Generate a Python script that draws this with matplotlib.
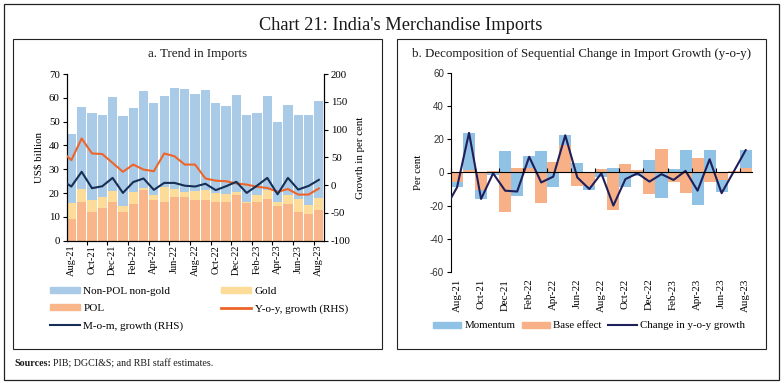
import matplotlib
matplotlib.use("Agg")
import matplotlib.pyplot as plt
import numpy as np
from matplotlib.patches import Rectangle, Patch
from matplotlib.lines import Line2D

plt.rcParams["axes.unicode_minus"] = False
SERIF = "Liberation Serif"
SANS = "Liberation Sans"

# ---------------- data ----------------
months = ["Aug-21", "Sep-21", "Oct-21", "Nov-21", "Dec-21", "Jan-22", "Feb-22", "Mar-22",
          "Apr-22", "May-22", "Jun-22", "Jul-22", "Aug-22", "Sep-22", "Oct-22", "Nov-22",
          "Dec-22", "Jan-23", "Feb-23", "Mar-23", "Apr-23", "May-23", "Jun-23", "Jul-23", "Aug-23"]
line_months = ["Jul-21"] + months  # line series carry one earlier month

# Panel a (US$ billion)
pol = [9.2, 16.4, 12.2, 13.9, 16.4, 12.2, 15.5, 21.1, 17.2, 16.4, 18.5, 18.2, 17.1, 17.2,
       16.1, 16.1, 19.2, 15.7, 16.2, 17.6, 14.7, 15.3, 12.2, 11.3, 13.0]
gold = [6.6, 5.3, 4.9, 4.6, 4.6, 2.5, 4.9, 1.0, 2.1, 6.1, 3.1, 2.4, 3.6, 4.1, 3.8, 3.5,
        1.2, 0.7, 3.1, 3.7, 1.4, 3.9, 5.2, 3.8, 4.9]
non_pol_non_gold = [29.2, 34.5, 36.5, 34.4, 39.2, 37.7, 35.3, 40.9, 38.7, 38.4, 42.5, 43.1,
                    41.1, 42.0, 37.9, 37.1, 40.6, 36.3, 34.2, 39.5, 33.9, 37.7, 35.5, 37.6, 40.8]
# Panel a (per cent, RHS)
yoy_growth = [62, 45, 84, 57, 56, 40, 24, 37, 28, 25, 57, 52, 37, 37, 12, 8, 7, 3, 1,
              -3, -5, -12, -7, -17, -17, -6]
mom_growth = [10, -2.5, 24, -5.5, -2, 13, -14, 5.5, 12, -8.5, 4, 4, -1, -2.5, 2.5, -9, -2,
              6, -14, -1, 13, -16.5, 13, -8, -1.5, 9.5]

# Panel b (per cent)
base_effect = [-5.5, 1.5, -10.5, 1, -24, 2.5, 3, -18.5, 6.5, 16.8, -8, -8, 2, -22.5, 5, 1.5,
               -13, 14, -6, -12.5, 8.5, -5.5, -4.5, 1, 3]
momentum = [-3, 22.5, -5.5, -1.5, 13, -14, 7, 13, -9, 6, 5.5, -2.5, -3, 2.5, -9, -2, 7.5,
            -15.5, 2, 13.5, -19.5, 13.5, -7.5, -0.5, 10.5]
change_yoy = [-22, -9, 24, -16, -0.5, -11, -11.5, 9.5, -6, -2.5, 22.5, -3, -10, -0.5, -20,
              -4, -0.5, -5.5, -1, -4.5, 1, -11, 8, -12.5, 0.5, 13.5]

# ---------------- styles ----------------
C_NONPOL = "#aacbe8"
C_GOLD = "#fcdc98"
C_POL = "#f8b68a"
C_YOY = "#ee6529"
C_MOM = "#172f55"
C_MOMENTUM = "#8fc2e5"
C_BASE = "#f8b187"
C_CHANGE = "#1f1f5c"

W, H = 783, 384
fig = plt.figure(figsize=(W / 100, H / 100), dpi=100)


def fx(px):
    return px / W


def fy(py):
    return 1 - py / H


# frames
fig.add_artist(Rectangle((fx(4), fy(380)), fx(775), 376 / H, transform=fig.transFigure,
                         fill=False, edgecolor="#222222", lw=0.9))
for x0 in (13, 397):
    fig.add_artist(Rectangle((fx(x0), fy(349)), fx(369), 310 / H, transform=fig.transFigure,
                             fill=False, edgecolor="#222222", lw=0.8))

fig.text(fx(401), fy(30.5), "Chart 21: India's Merchandise Imports", ha="center",
         va="baseline", fontsize=13.2, family=SERIF, color="#1a1a1a")
fig.text(fx(197.5), fy(57.5), "a. Trend in Imports", ha="center", va="baseline",
         fontsize=9.4, family=SERIF, color="#1a1a1a")
fig.text(fx(582), fy(57.5), "b. Decomposition of Sequential Change in Import Growth (y-o-y)",
         ha="center", va="baseline", fontsize=9.3, family=SERIF, color="#1a1a1a")

# ---------------- panel a ----------------
ax1 = fig.add_axes([fx(66.7), fy(240.7), fx(324 - 66.7), (240.7 - 74) / H])
x = np.arange(len(months))
pol_a = np.array(pol)
gold_a = np.array(gold)
npg_a = np.array(non_pol_non_gold)
ax1.bar(x, pol_a, width=0.9, color=C_POL, edgecolor="none", zorder=2)
ax1.bar(x, gold_a, bottom=pol_a, width=0.9, color=C_GOLD, edgecolor="none", zorder=2)
ax1.bar(x, npg_a, bottom=pol_a + gold_a, width=0.9, color=C_NONPOL, edgecolor="none", zorder=2)
ax1.set_xlim(-0.45, 24.5)
ax1.set_ylim(0, 70)
ax1.set_yticks(np.arange(0, 71, 10))
ax1.set_xticks(np.arange(-0.5, 24, 2))
ax1.set_xticklabels([])
ax1.set_xticks(x[::2], minor=True)
ax1.set_xticklabels(months[::2], minor=True, rotation=90, family=SERIF, fontsize=7.5)
ax1.tick_params(axis="x", which="major", length=3, width=0.8, direction="out")
ax1.tick_params(axis="x", which="minor", length=0, pad=3)
ax1.tick_params(axis="y", length=3, width=0.8, labelsize=7.8, pad=2)
for lab in ax1.get_yticklabels():
    lab.set_family(SERIF)
ax1.spines["top"].set_visible(False)
for s in ("left", "bottom", "right"):
    ax1.spines[s].set_linewidth(0.8)
ax1.set_ylabel("US$ billion", family=SERIF, fontsize=7.8, labelpad=4)

ax1b = ax1.twinx()
xl = np.arange(-1, len(months))
ax1b.plot(xl, yoy_growth, color=C_YOY, lw=1.5, zorder=3)
ax1b.plot(xl, mom_growth, color=C_MOM, lw=1.5, zorder=3)
ax1b.set_xlim(-0.45, 24.5)
ax1b.set_ylim(-100, 200)
ax1b.set_yticks(np.arange(-100, 201, 50))
ax1b.tick_params(axis="y", length=3, width=0.8, labelsize=7.8, pad=2)
for lab in ax1b.get_yticklabels():
    lab.set_family(SERIF)
ax1b.spines["top"].set_visible(False)
ax1b.spines["right"].set_linewidth(0.8)
ax1b.set_ylabel("Growth in per cent", family=SERIF, fontsize=7.8, labelpad=4)

handles_a = [Patch(color=C_NONPOL), Patch(color=C_POL), Line2D([], [], color=C_MOM, lw=1.5),
             Patch(color=C_GOLD), Line2D([], [], color=C_YOY, lw=2)]
labels_a = ["Non-POL non-gold", "POL", "M-o-m, growth (RHS)", "Gold", "Y-o-y, growth (RHS)"]
fig.legend(handles_a, labels_a, ncol=2, loc="upper left", bbox_to_anchor=(fx(50), fy(287)),
           frameon=False, prop={"family": SERIF, "size": 8}, handlelength=2.7,
           handleheight=0.45, handletextpad=0.3, columnspacing=3.4, labelspacing=0.72,
           borderpad=0, borderaxespad=0)

# ---------------- panel b ----------------
ax2 = fig.add_axes([fx(451), fy(271.7), fx(751.7 - 451), (271.7 - 73.3) / H])
be = np.array(base_effect)
mo = np.array(momentum)
mo_bottom = np.where(np.sign(mo) == np.sign(be), be, 0.0)
ax2.bar(x, be, width=1.0, color=C_BASE, edgecolor="none", zorder=2)
ax2.bar(x, mo, bottom=mo_bottom, width=1.0, color=C_MOMENTUM, edgecolor="none", zorder=2)
ax2.plot(xl, change_yoy, color=C_CHANGE, lw=1.5, zorder=4)
ax2.set_xlim(-0.5, 24.5)
ax2.set_ylim(-60, 60)
ax2.set_yticks(np.arange(-60, 61, 20))
ax2.tick_params(axis="y", length=3, width=0.8, labelsize=7, labelcolor="#333333", pad=2)
for lab in ax2.get_yticklabels():
    lab.set_family(SANS)
for s in ("top", "right", "bottom"):
    ax2.spines[s].set_visible(False)
ax2.spines["left"].set_linewidth(0.8)
ax2.set_xticks(x[::2])
ax2.set_xticklabels(months[::2], rotation=90, family=SERIF, fontsize=7.8)
ax2.tick_params(axis="x", length=0, pad=5)
ax2.set_ylabel("Per cent", family=SERIF, fontsize=7.8, labelpad=5)

sec = ax2.secondary_xaxis(0.5)
sec.set_xticks(np.arange(-0.5, 24, 2))
sec.set_xticklabels([])
sec.tick_params(axis="x", length=3, width=0.8, direction="out")
sec.spines["bottom"].set_linewidth(1.0)
sec.set_zorder(5)

handles_b = [Patch(color=C_MOMENTUM), Patch(color=C_BASE), Line2D([], [], color=C_CHANGE, lw=1.5)]
labels_b = ["Momentum", "Base effect", "Change in y-o-y growth"]
fig.legend(handles_b, labels_b, ncol=3, loc="upper left", bbox_to_anchor=(fx(433), fy(321.5)),
           frameon=False, prop={"family": SERIF, "size": 7.8}, handlelength=2.6,
           handleheight=0.45, handletextpad=0.3, columnspacing=0.6, borderpad=0,
           borderaxespad=0)

# ---------------- source note ----------------
t1 = fig.text(fx(14), fy(366.5), "Sources:", ha="left", va="baseline", fontsize=7.2,
              family=SERIF, weight="bold", color="#1a1a1a")
fig.canvas.draw()
bb = t1.get_window_extent(renderer=fig.canvas.get_renderer())
fig.text(bb.x1 / W + fx(2.5), fy(366.5), "PIB; DGCI&S; and RBI staff estimates.", ha="left",
         va="baseline", fontsize=7.2, family=SERIF, color="#1a1a1a")

fig.savefig("out.png", dpi=100)
